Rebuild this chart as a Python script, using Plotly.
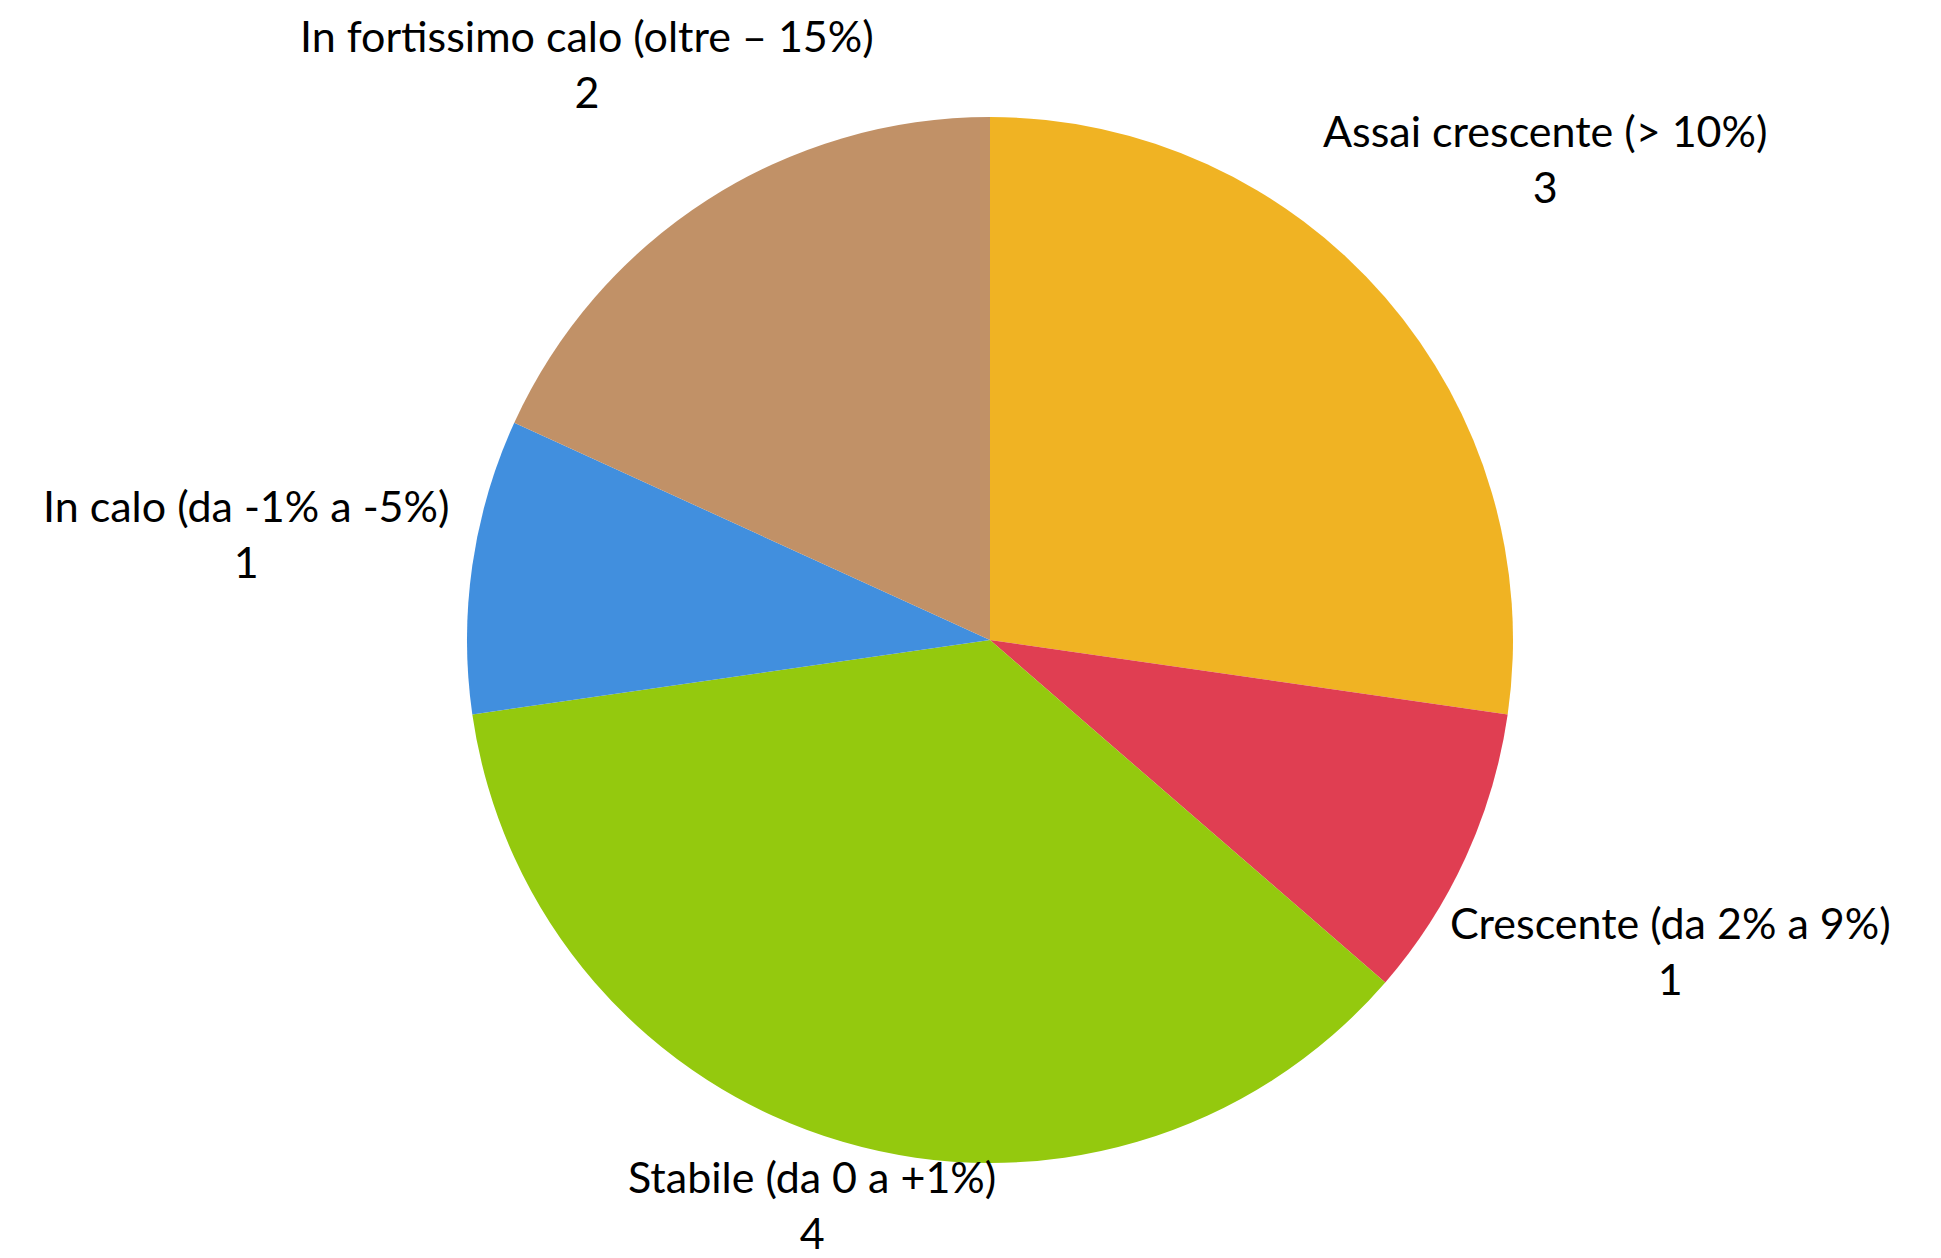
import math
import plotly.graph_objects as go

categories = [
    "Assai crescente (> 10%)",
    "Crescente (da 2% a 9%)",
    "Stabile (da 0 a +1%)",
    "In calo (da -1% a -5%)",
    "In fortissimo calo (oltre – 15%)",
]
values = [3, 1, 4, 1, 2]
colors = ["#F0B323", "#E03E52", "#94C90E", "#418FDE", "#C19167"]

W, H = 1941, 1258
FONT = "Lato"
FS = 43

# pie geometry (pixels)
cx, cy, R = 982, 632, 523
dom_x = [(cx - R) / W, (cx + R) / W]
dom_y = [(H - cy - R) / H, (H - cy + R) / H]

fig = go.Figure(
    go.Pie(
        labels=categories,
        values=values,
        sort=False,
        direction="clockwise",
        rotation=0,
        marker=dict(colors=colors, line=dict(width=0)),
        textinfo="none",
        hoverinfo="label+value",
        showlegend=False,
        domain=dict(x=dom_x, y=dom_y),
    )
)

# data labels placed outside each slice along its mid-angle
total = sum(values)
cum = 0.0
annotations = []
char_w = 0.47 * FS
line_h = 1.3 * FS
pad_top, pad_bottom, pad_side = 0, 6, 6
for lab, v in zip(categories, values):
    mid = (cum + v / 2) / total * 2 * math.pi
    cum += v
    ux, uy = math.sin(mid), -math.cos(mid)
    hw = len(lab) * char_w / 2
    hh = line_h
    ext = hw * abs(ux) + hh * abs(uy)
    D = R + ext
    x = cx + ux * D
    y = cy + uy * D
    x = min(max(x, hw + pad_side), W - hw - pad_side)
    y = min(max(y, hh + pad_top), H - hh - pad_bottom)
    annotations.append(
        dict(
            x=x / W, y=1 - y / H, xref="paper", yref="paper",
            xanchor="center", yanchor="middle", align="center",
            text=f"{lab}<br>{v}", showarrow=False,
            font=dict(family=FONT, size=FS, color="#000000"),
        )
    )

fig.update_layout(
    width=W,
    height=H,
    margin=dict(l=0, r=0, t=0, b=0),
    paper_bgcolor="white",
    plot_bgcolor="white",
    font=dict(family=FONT, size=FS, color="#000000"),
    annotations=annotations,
)
fig.write_html("out.html")
